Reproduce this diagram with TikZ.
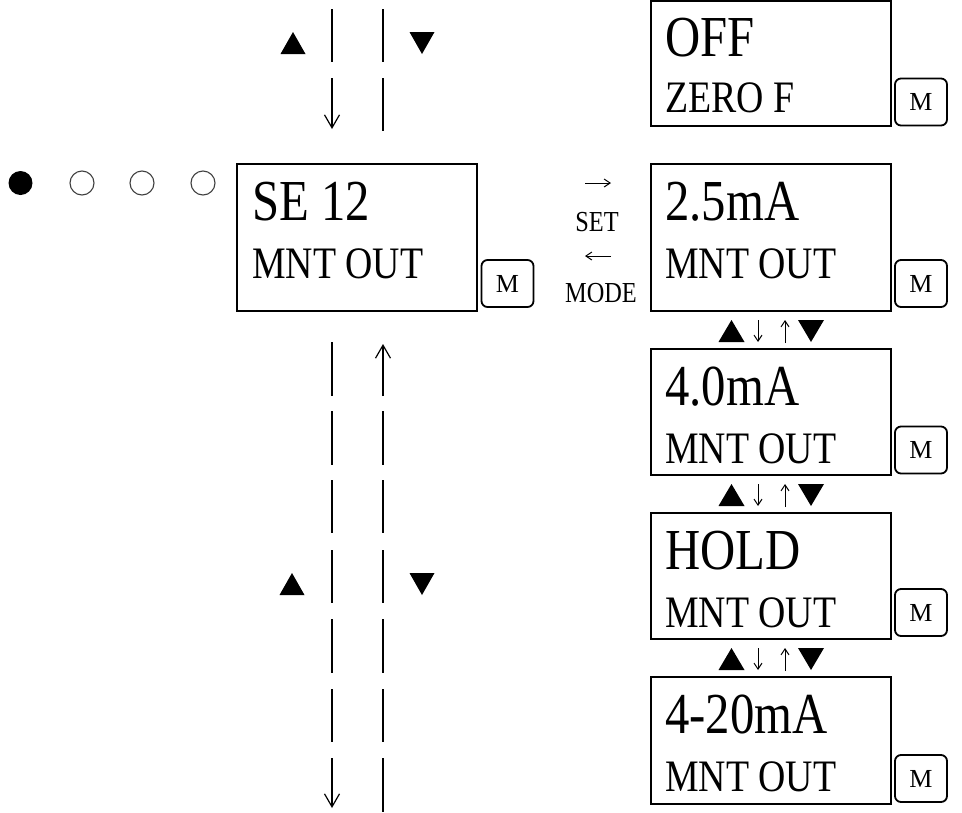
\documentclass[tikz,border=0pt]{standalone}
\usepackage{fontspec}
\setmainfont{Liberation Serif}[FakeStretch=0.84]
\newfontfamily\btnfont{Liberation Serif}
\usetikzlibrary{arrows.meta}
\begin{document}
\begin{tikzpicture}[x=1pt,y=-1pt,
  disp/.style={draw, line width=2pt, inner sep=0pt, outer sep=0pt, anchor=north west, minimum width=240pt},
  bigtxt/.style={anchor=base west, inner sep=0pt, font=\fontsize{58}{58}\selectfont},
  midtxt/.style={anchor=base west, inner sep=0pt, font=\fontsize{45}{45}\selectfont},
  keytxt/.style={anchor=base, inner sep=0pt, font=\fontsize{29}{29}\selectfont},
  mbtn/.style={draw, line width=1.8pt, rounded corners=6pt, minimum width=52pt, minimum height=47pt, inner sep=0pt, outer sep=0pt, font=\btnfont\fontsize{26}{26}\selectfont},
  bar/.style={line width=2.2pt},
  bigarr/.style={line width=1.2pt, -{Straight Barb[length=13pt,width=15pt]}},
  smallarr/.style={line width=1pt, -{Straight Barb[length=6pt,width=8pt]}},
  dot/.style={circle, inner sep=0pt, minimum size=24pt},
  tri/.style={fill=black}]
\useasboundingbox (0,0) rectangle (962,812);

% status dots
\node[dot, fill=black] (d1) at (20.5,183) {};
\node[dot, draw=black!75, line width=1.1pt] (d2) at (82,183) {};
\node[dot, draw=black!75, line width=1.1pt] (d3) at (142,183) {};
\node[dot, draw=black!75, line width=1.1pt] (d4) at (203,183) {};

% displays
\node[disp, minimum height=125pt] (boff) at (651,1) {};
\node[disp, minimum height=147pt] (bse) at (237,164) {};
\node[disp, minimum height=147pt] (b25) at (651,164) {};
\node[disp, minimum height=126pt] (b40) at (651,349) {};
\node[disp, minimum height=126pt] (bhold) at (651,513) {};
\node[disp, minimum height=127pt] (b420) at (651,677) {};

% display texts
\node[bigtxt] (toff1) at (665,56) {OFF};
\node[midtxt] (toff2) at (665,112) {ZERO F};
\node[bigtxt] (tse1) at (252,220) {SE 12};
\node[midtxt] (tse2) at (252,278) {MNT OUT};
\node[bigtxt] (t251) at (665,220) {2.5mA};
\node[midtxt] (t252) at (665,278) {MNT OUT};
\node[bigtxt] (t401) at (665,405) {4.0mA};
\node[midtxt] (t402) at (665,463) {MNT OUT};
\node[bigtxt] (th1) at (665,569) {HOLD};
\node[midtxt] (th2) at (665,627) {MNT OUT};
\node[bigtxt] (t4201) at (665,733) {4-20mA};
\node[midtxt] (t4202) at (665,791) {MNT OUT};

% M buttons
\node[mbtn] (moff) at (921,102) {M};
\node[mbtn] (mse) at (507.5,283.5) {M};
\node[mbtn] (m25) at (921,283.5) {M};
\node[mbtn] (m40) at (921,450) {M};
\node[mbtn] (mhold) at (921,612.5) {M};
\node[mbtn] (m420) at (921,778.5) {M};

% SET / MODE
\coordinate (sa) at (585,183); \coordinate (sb) at (611,183);
\coordinate (ma) at (611,256); \coordinate (mb) at (585,256);
\draw[smallarr] (sa) -- (sb);
\node[keytxt] (kset) at (597,231) {SET};
\draw[smallarr] (ma) -- (mb);
\node[keytxt] (kmode) at (601,302) {MODE};

% top-left arrows
\fill[tri] (280.5,54) -- (305.5,54) -- (293,32) -- cycle;
\fill[tri] (409.5,32) -- (434.5,32) -- (422,54) -- cycle;
\draw[bar] (332,9) -- (332,62);
\draw[bar] (383,9) -- (383,62);
\coordinate (ta1) at (332,78); \coordinate (ta2) at (332,129);
\draw[bigarr] (ta1) -- (ta2);
\draw[bar] (383,78) -- (383,131);

% bottom-left arrows
\coordinate (ua1) at (383,396); \coordinate (ua2) at (383,344);
\draw[bigarr] (ua1) -- (ua2);
\draw[bar] (332,342) -- (332,396);
\foreach \a/\b in {411/465,480/533,550/603,619/673,689/742}{
  \draw[bar] (332,\a) -- (332,\b);
  \draw[bar] (383,\a) -- (383,\b);
}
\coordinate (da1) at (332,758); \coordinate (da2) at (332,808);
\draw[bigarr] (da1) -- (da2);
\draw[bar] (383,758) -- (383,812);
\fill[tri] (279.5,595) -- (304.5,595) -- (292,573) -- cycle;
\fill[tri] (409.5,573) -- (434.5,573) -- (422,595) -- cycle;

% rows between right displays
\foreach \y [count=\i] in {320,484,648}{
  \fill[tri] (718.5,\y+22) -- (744.5,\y+22) -- (731.5,\y) -- cycle;
  \fill[tri] (798,\y) -- (824,\y) -- (811,\y+22) -- cycle;
  \coordinate (dn\i a) at (758,\y);
  \coordinate (dn\i b) at (758,\y+22);
  \coordinate (up\i a) at (785,\y+23);
  \coordinate (up\i b) at (785,\y);
  \draw[smallarr] (dn\i a) -- (dn\i b);
  \draw[smallarr] (up\i a) -- (up\i b);
}
\end{tikzpicture}
\end{document}
